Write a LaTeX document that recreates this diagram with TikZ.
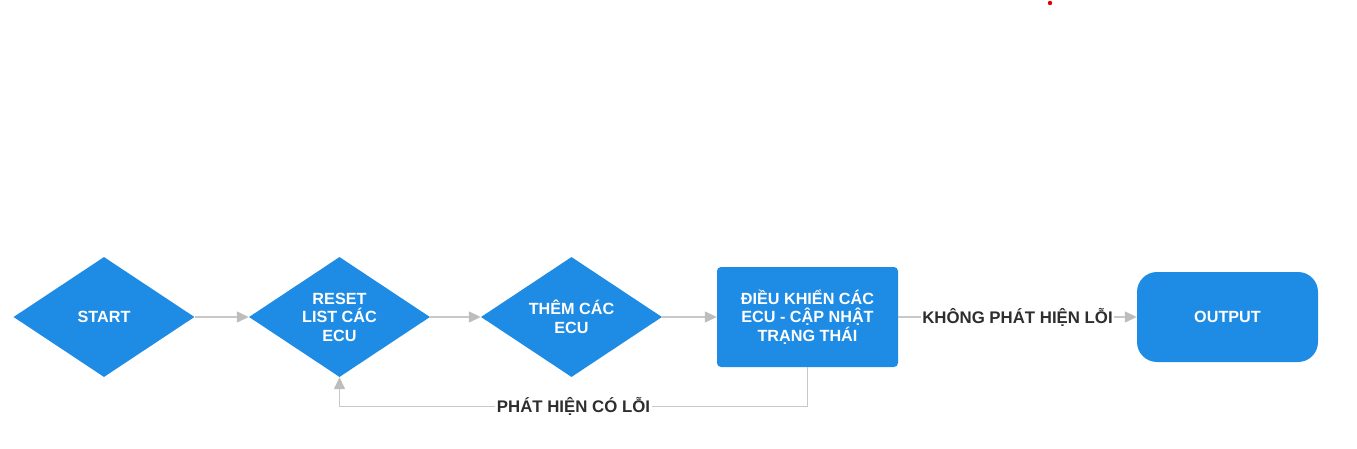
\documentclass[tikz,border=0pt]{standalone}
\usepackage{fontspec}
\setmainfont{Liberation Sans}
\usetikzlibrary{shapes.geometric,arrows.meta}
\definecolor{boxblue}{HTML}{1E8BE4}
\definecolor{linegray}{HTML}{C8C8C8}
\definecolor{tipgray}{HTML}{BDBDBD}
\definecolor{labeldark}{HTML}{2E2E2E}
\tikzset{
  boxfont/.style={font=\fontsize{16.2}{18.5}\selectfont\bfseries},
  dia/.style={diamond, fill=boxblue, draw=none, aspect=1.5, inner sep=0pt,
    minimum width=181pt, minimum height=120pt, text=white, align=center, boxfont},
  procbox/.style={rectangle, fill=boxblue, draw=none, rounded corners=4pt,
    minimum width=181pt, minimum height=100pt, text=white, align=center, boxfont},
  outbox/.style={rectangle, fill=boxblue, draw=none, rounded corners=20pt,
    minimum width=181pt, minimum height=90pt, text=white, align=center, boxfont},
  conn/.style={draw=linegray, line width=1.4pt,
    -{Triangle[length=12pt,width=11pt,fill=tipgray,color=tipgray]}},
  elabel/.style={fill=white, text=labeldark, inner sep=1.5pt,
    font=\fontsize{16.8}{18.5}\selectfont\bfseries}
}
\begin{document}
\begin{tikzpicture}[x=1pt,y=-1pt]
\useasboundingbox (0,0) rectangle (1357,449);
\fill[red!90!black] (1050,3) circle (2.2pt);
\node[dia] (start) at (104,317) {START};
\node[dia] (reset) at (339.5,317) {RESET\\LIST CÁC\\ECU};
\node[dia] (them) at (571.5,317) {THÊM CÁC\\ECU};
\node[procbox] (ctrl) at (807.5,317) {ĐIỀU KHIỂN CÁC\\ECU - CẬP NHẬT\\TRẠNG THÁI};
\node[outbox] (out) at (1227.5,317) {OUTPUT};
\draw[conn] (start.east) -- (reset.west);
\draw[conn] (reset.east) -- (them.west);
\draw[conn] (them.east) -- (ctrl.west);
\draw[conn] (ctrl.east) -- node[elabel] {KHÔNG PHÁT HIỆN LỖI} (out.west);
\draw[conn] (ctrl.south) -- ++(0,39) -| node[elabel,pos=0.25] {PHÁT HIỆN CÓ LỖI} (reset.south);
\end{tikzpicture}
\end{document}
